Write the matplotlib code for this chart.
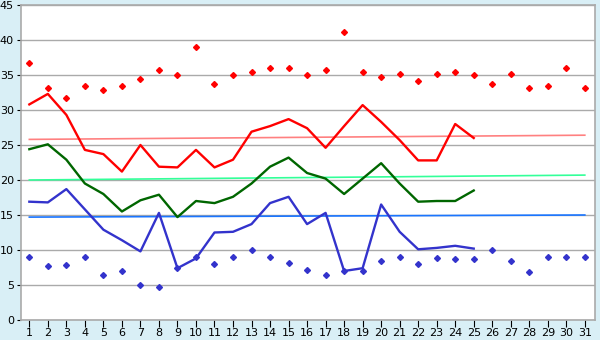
import matplotlib.pyplot as plt
import numpy as np

days = list(range(1, 32))

# daily max (diamonds)
max_pts = [36.7, 33.1, 31.7, 33.4, 32.9, 33.5, 34.4, 35.7, 35.0, 39.0,
           33.7, 35.0, 35.5, 36.0, 36.0, 35.0, 35.7, 41.1, 35.4, 34.7,
           35.2, 34.1, 35.2, 35.4, 35.0, 33.7, 35.1, 33.2, 33.5, 36.0, 33.2]
# daily min (diamonds)
min_pts = [9.0, 7.7, 7.8, 9.0, 6.5, 7.0, 5.0, 4.7, 7.4, 9.0,
           8.0, 9.0, 10.0, 9.0, 8.1, 7.1, 6.4, 7.0, 7.0, 8.4,
           9.0, 8.0, 8.8, 8.7, 8.7, 10.0, 8.5, 6.8, 9.0, 9.0, 9.0]

# this year's lines (days 1-25)
high = [30.8, 32.3, 29.3, 24.3, 23.7, 21.2, 25.0, 21.9, 21.8, 24.3,
        21.8, 22.9, 26.9, 27.7, 28.7, 27.4, 24.6, 27.7, 30.7, 28.3,
        25.7, 22.8, 22.8, 28.0, 26.0]
mean = [24.4, 25.1, 22.9, 19.5, 18.0, 15.5, 17.1, 17.9, 14.7, 17.0,
        16.7, 17.6, 19.5, 21.9, 23.2, 21.0, 20.2, 18.0, 20.2, 22.4,
        19.5, 16.9, 17.0, 17.0, 18.5]
low = [16.9, 16.8, 18.7, 15.8, 12.9, 11.4, 9.8, 15.3, 7.4, 8.8,
       12.5, 12.6, 13.7, 16.7, 17.6, 13.7, 15.3, 7.0, 7.4, 16.5,
       12.6, 10.1, 10.3, 10.6, 10.2]

# long-term normals (start, end)
norm_high = [25.8, 26.4]
norm_mean = [20.0, 20.7]
norm_low = [14.7, 15.0]

bg = "#d9eff6"
fig = plt.figure(figsize=(6, 3.4), dpi=100, facecolor=bg)
ax = fig.add_axes([21 / 600, 20 / 340, 574 / 600, 315 / 340])
ax.set_facecolor("white")

d = np.array(days)
n = len(high)

ax.plot([1, 31], norm_high, color="#ff8080", lw=1.2)
ax.plot([1, 31], norm_mean, color="#33ff99", lw=1.2)
ax.plot([1, 31], norm_low, color="#1a75ff", lw=1.2)

ax.plot(d[:n], high, color="#ff0000", lw=1.7)
ax.plot(d[:n], mean, color="#006600", lw=1.7)
ax.plot(d[:n], low, color="#3333cc", lw=1.7)

ax.plot(d, max_pts, linestyle="none", marker="D", ms=3, color="#ff0000")
ax.plot(d, min_pts, linestyle="none", marker="D", ms=3, color="#3333cc")

ax.set_xlim(0.55, 31.55)
ax.set_ylim(0, 45)
ax.set_xticks(days)
ax.set_yticks(range(0, 46, 5))
ax.yaxis.grid(True, color="#aaaaaa", lw=1)
ax.set_axisbelow(True)
for s in ax.spines.values():
    s.set_color("#aaaaaa")
    s.set_linewidth(1.2)
ax.tick_params(axis="x", direction="out", length=5, color="black", labelsize=8, pad=1)
ax.tick_params(axis="y", direction="out", length=3, color="black", labelsize=8, pad=2)

fig.savefig("out.png", dpi=100, facecolor=bg)
